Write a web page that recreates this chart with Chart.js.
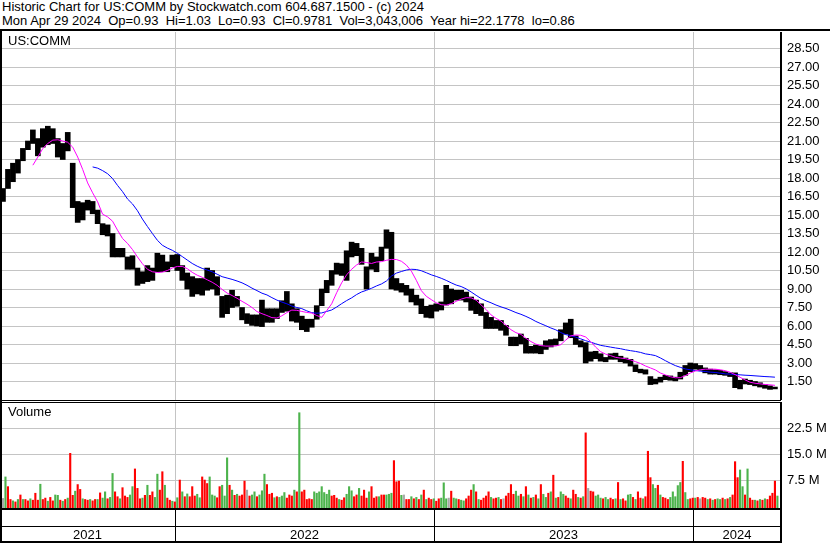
<!DOCTYPE html>
<html>
<head>
<meta charset="utf-8">
<script src="https://cdn.jsdelivr.net/npm/chart.js@4.4.1/dist/chart.umd.min.js"></script>
<style>
  html, body { margin: 0; padding: 0; background: #fff; }
  body { width: 830px; height: 543px; position: relative; overflow: hidden;
         font-family: "Liberation Sans", Arial, sans-serif; font-size: 13px; color: #000; }
  .txt { position: absolute; white-space: pre; line-height: 14px; z-index: 2; }
  .rule { position: absolute; background: #000; z-index: 2; }
  .hline { position: absolute; background: #c4c4c4; height: 1px; z-index: 0; }
  canvas { position: absolute; left: 0; z-index: 1; background: transparent; }
</style>
</head>
<body>
<div class="txt" style="left:2px;top:0">Historic Chart for US:COMM by Stockwatch.com 604.687.1500 - (c) 2024</div>
<div class="txt" style="left:2px;top:14px">Mon Apr 29 2024  Op=0.93  Hi=1.03  Lo=0.93  Cl=0.9781  Vol=3,043,006  Year hi=22.1778  lo=0.86</div>

<canvas id="priceChart" width="830" height="368" style="top:32px"></canvas>
<canvas id="volChart" width="830" height="106" style="top:402px"></canvas>

<div class="txt" style="left:8px;top:34px">US:COMM</div>
<div class="txt" style="left:8px;top:405px">Volume</div>

<div id="frame"></div>

<script>
// weekly high / low, one entry per week from late Apr 2021 to Apr 2024
const highs = [
  17.15, 18.7, 19.2, 19.5, 20.4, 21.0, 21.9, 21.2, 22.0, 22.2,
  22.0, 21.2, 20.8, 21.7, 19.2, 16.1, 16.0, 16.2, 16.1, 15.4,
  14.3, 14.2, 13.5, 12.3, 12.3, 11.6, 11.7, 10.7, 10.4, 10.9,
  10.7, 11.9, 11.75, 11.2, 11.75, 11.8, 10.9, 10.3, 10.0, 9.85,
  9.85, 10.7, 10.5, 10.0, 8.4, 8.5, 8.9, 8.4, 7.5, 7.0,
  6.9, 6.9, 8.1, 7.4, 7.4, 7.4, 8.05, 8.8, 7.8, 7.4,
  6.8, 6.55, 6.55, 7.65, 9.0, 9.7, 10.5, 11.1, 11.05, 12.1,
  12.8, 12.7, 12.3, 10.8, 11.9, 11.6, 12.4, 13.8, 13.6, 9.85,
  9.45, 9.3, 9.0, 8.5, 8.2, 7.6, 7.7, 7.8, 7.95, 9.3,
  9.0, 8.9, 8.9, 8.75, 8.35, 8.1, 7.8, 7.1, 6.7, 6.45,
  6.45, 6.05, 5.1, 5.1, 5.35, 5.0, 4.35, 4.45, 4.4, 4.8,
  4.9, 4.95, 5.7, 6.25, 6.55, 5.2, 4.8, 4.65, 3.9, 3.95,
  3.75, 3.45, 3.75, 3.8, 3.55, 3.4, 3.3, 2.85, 2.5, 2.45,
  1.9, 1.7, 1.85, 2.0, 1.95, 1.85, 2.25, 2.8, 3.0, 2.95,
  2.8, 2.6, 2.5, 2.45, 2.4, 2.3, 2.2, 2.2, 1.6, 1.7,
  1.6, 1.5, 1.4, 1.25, 1.15, 1.05
];
const lows = [
  16.1, 17.15, 17.7, 18.4, 19.4, 20.3, 20.8, 19.8, 20.5, 20.7,
  20.8, 19.7, 19.5, 20.2, 15.6, 14.4, 14.6, 15.4, 15.1, 14.3,
  13.4, 13.3, 11.6, 11.6, 11.6, 10.6, 10.6, 9.3, 9.45, 9.6,
  9.7, 10.4, 10.4, 10.4, 10.8, 10.5, 9.7, 9.0, 8.4, 8.6,
  8.5, 8.9, 9.0, 8.5, 6.7, 7.0, 7.5, 7.6, 6.5, 6.2,
  6.05, 6.0, 5.95, 6.3, 6.3, 6.6, 7.1, 7.2, 6.4, 6.3,
  5.7, 5.55, 5.9, 6.55, 7.65, 8.7, 9.3, 10.2, 10.1, 9.7,
  11.6, 11.7, 11.0, 9.0, 10.6, 10.4, 11.3, 12.3, 9.0, 8.9,
  8.75, 8.5, 7.95, 7.7, 7.0, 6.7, 6.65, 7.2, 7.3, 7.7,
  7.8, 8.1, 8.1, 7.95, 7.27, 7.0, 6.85, 5.8, 5.8, 5.8,
  5.65, 5.25, 4.4, 4.4, 4.55, 3.8, 3.8, 3.8, 3.75, 4.1,
  4.3, 4.45, 4.8, 5.35, 5.05, 4.5, 4.3, 3.0, 3.15, 3.35,
  3.15, 3.1, 3.3, 3.3, 3.1, 3.0, 2.75, 2.3, 2.2, 2.1,
  1.25, 1.3, 1.45, 1.65, 1.6, 1.55, 1.7, 2.0, 2.3, 2.5,
  2.4, 2.2, 2.1, 2.1, 2.05, 2.0, 1.9, 1.0, 0.9, 1.3,
  1.25, 1.15, 1.05, 0.95, 0.86, 0.9
];
// short moving average (magenta)
const maShort = [
  null, null, null, null, null, null, 19.04, 19.7, 20.4, 20.8,
  21.07, 21.1, 21.0, 20.9, 20.5, 19.7, 18.7, 17.6, 16.8, 16.07,
  15.07, 14.85, 14.5, 13.77, 13.1, 12.7, 12.2, 11.6, 11.05, 10.6,
  10.4, 10.34, 10.37, 10.5, 10.7, 10.83, 10.83, 10.65, 10.35, 10.12,
  9.95, 9.75, 9.55, 9.3, 8.97, 8.67, 8.47, 8.25, 8.0, 7.77,
  7.5, 7.17, 7.0, 6.85, 6.68, 6.65, 6.83, 7.09, 7.29, 7.27,
  7.18, 7.1, 7.05, 6.85, 6.7, 7.25, 7.8, 8.7, 9.5, 10.15,
  10.6, 10.95, 11.19, 11.15, 11.07, 11.19, 11.22, 11.33, 11.4, 11.39,
  11.25, 10.94, 10.45, 9.7, 8.87, 8.41, 8.14, 7.88, 7.73, 7.69,
  7.81, 8.0, 8.18, 8.3, 8.28, 8.1, 7.71, 7.34, 6.9, 6.62,
  6.4, 6.06, 5.7, 5.46, 5.32, 5.0, 4.74, 4.53, 4.41, 4.37,
  4.37, 4.38, 4.49, 4.86, 5.2, 5.27, 5.25, 5.11, 4.74, 4.29,
  3.92, 3.72, 3.6, 3.46, 3.4, 3.35, 3.25, 3.11, 2.96, 2.76,
  2.6, 2.44, 2.19, 2.03, 1.89, 1.8, 1.81, 1.97, 2.19, 2.35,
  2.45, 2.5, 2.5, 2.5, 2.45, 2.38, 2.25, 2.06, 1.84, 1.63,
  1.44, 1.36, 1.31, 1.26, 1.23, 1.19
];
// long moving average (blue)
const maLong = [
  null, null, null, null, null, null, null, null, null, null,
  null, null, null, null, null, null, null, null, 18.9, 18.8,
  18.6, 18.35, 17.96, 17.4, 16.9, 16.3, 15.9, 15.35, 14.67, 14.07,
  13.5, 12.95, 12.55, 12.32, 12.14, 11.9, 11.63, 11.35, 11.07, 10.85,
  10.67, 10.54, 10.4, 10.2, 10.0, 9.89, 9.78, 9.65, 9.5, 9.3,
  9.07, 8.87, 8.66, 8.52, 8.3, 8.1, 7.94, 7.8, 7.62, 7.5,
  7.41, 7.23, 7.08, 7.04, 7.06, 7.18, 7.3, 7.54, 7.81, 8.06,
  8.28, 8.55, 8.76, 8.9, 9.06, 9.25, 9.41, 9.65, 10.05, 10.29,
  10.42, 10.54, 10.6, 10.58, 10.48, 10.32, 10.15, 10.02, 9.87, 9.7,
  9.5, 9.32, 9.2, 9.01, 8.76, 8.49, 8.23, 8.04, 7.88, 7.7,
  7.55, 7.42, 7.26, 7.09, 6.95, 6.78, 6.59, 6.37, 6.19, 6.02,
  5.84, 5.69, 5.47, 5.3, 5.22, 5.1, 4.96, 4.81, 4.69, 4.56,
  4.43, 4.36, 4.29, 4.22, 4.16, 4.07, 4.0, 3.94, 3.86, 3.74,
  3.68, 3.6, 3.41, 3.19, 2.98, 2.79, 2.65, 2.52, 2.45, 2.39,
  2.34, 2.31, 2.26, 2.23, 2.18, 2.12, 2.1, 2.07, 2.04, 2.01,
  1.99, 1.96, 1.93, 1.9, 1.88, 1.85
];
// volume in millions, two samples per week
const volume = [
  2.3, 8.5, 5.7, 2.0, 1.6, 1.3, 2.0, 3.3, 2.0, 2.0,
  1.6, 2.2, 1.8, 3.8, 1.8, 6.4, 2.0, 2.4, 1.5, 2.6,
  1.6, 3.3, 3.2, 1.8, 1.5, 2.0, 2.4, 15.3, 3.2, 4.4,
  6.3, 4.9, 2.2, 2.0, 1.8, 2.0, 1.6, 2.0, 2.0, 3.9,
  2.4, 4.2, 2.2, 2.6, 9.5, 4.2, 2.8, 2.2, 5.4, 3.0,
  2.6, 3.3, 5.7, 10.8, 5.2, 2.2, 2.4, 3.2, 6.1, 3.2,
  4.2, 2.6, 9.3, 4.7, 10.0, 6.1, 2.4, 1.8, 1.5, 1.3,
  2.5, 7.6, 4.2, 2.8, 3.6, 2.8, 5.7, 3.0, 3.5, 2.5,
  8.5, 7.6, 6.6, 8.5, 3.3, 3.0, 2.5, 5.7, 6.1, 3.0,
  14.0, 6.1, 4.7, 3.2, 3.5, 3.0, 3.3, 7.3, 4.7, 3.0,
  3.3, 4.2, 2.8, 3.3, 4.5, 9.3, 6.3, 3.5, 3.8, 2.5,
  2.8, 2.6, 3.0, 4.0, 2.4, 3.3, 3.0, 4.7, 4.2, 27.0,
  4.2, 4.7, 2.0, 2.2, 2.0, 4.2, 3.8, 4.2, 5.7, 4.0,
  3.5, 4.7, 3.0, 3.2, 2.4, 2.0, 1.8, 2.5, 3.5, 5.7,
  4.5, 2.8, 3.3, 5.2, 3.0, 4.7, 2.4, 4.2, 5.7, 2.4,
  2.8, 2.8, 3.3, 3.3, 3.3, 3.5, 3.8, 13.2, 7.1, 7.3,
  3.2, 3.3, 2.0, 2.0, 2.8, 2.2, 2.6, 2.0, 3.3, 4.7,
  2.0, 2.4, 2.0, 2.2, 1.5, 2.2, 2.4, 6.8, 2.2, 2.4,
  4.4, 2.4, 2.2, 2.0, 1.8, 1.6, 2.2, 3.0, 4.7, 6.3,
  4.2, 2.0, 1.8, 2.4, 3.0, 4.2, 2.6, 2.2, 2.4, 2.6,
  2.0, 2.2, 3.0, 3.8, 6.3, 3.5, 4.4, 3.0, 3.5, 2.8,
  5.7, 3.3, 2.4, 2.6, 3.3, 2.2, 6.3, 3.5, 2.6, 3.8,
  4.2, 9.0, 2.4, 2.6, 4.2, 3.5, 3.0, 2.4, 2.2, 4.7,
  3.5, 2.6, 2.4, 2.8, 21.2, 5.2, 4.4, 4.2, 3.0, 3.3,
  2.4, 2.2, 2.6, 2.0, 2.4, 2.0, 2.2, 6.9, 2.0, 2.2,
  1.6, 3.3, 3.5, 2.6, 2.0, 4.2, 2.4, 2.2, 2.8, 15.9,
  8.3, 6.3, 5.2, 6.1, 3.3, 2.6, 2.4, 2.0, 2.6, 4.2,
  2.8, 6.0, 6.9, 13.0, 4.0, 2.0, 2.2, 2.4, 2.4, 2.6,
  2.2, 2.6, 2.4, 2.0, 2.2, 1.8, 2.0, 2.2, 2.0, 2.4,
  2.0, 2.2, 2.6, 3.3, 12.9, 8.3, 10.5, 5.7, 3.3, 10.8,
  2.4, 1.8, 1.8, 1.6, 2.0, 1.8, 2.2, 2.0, 3.0, 3.8,
  7.3, 3.0
];
// u = up day, d = down day, n = unchanged; one row per 10 volume samples
const volDir = [
  'nuddududud', 'duddduddud', 'duudududdu', 'ddudduddud', 'uuduuddudd',
  'duudddudud', 'duudduddud', 'udududdduu', 'ddduuudduu', 'udududddnd',
  'uuduuudddu', 'duuudddudu', 'ddddduuuuu', 'uudddudduu', 'uddudddudd',
  'dudduuuddd', 'unddududud', 'uddudduuun', 'duuduudddu', 'dudddduddu',
  'dndddduudu', 'dudududuud', 'ududuuddud', 'dududndduu', 'uduuddudud',
  'duududdudd', 'duududdduu', 'uuuduuddud', 'nddududuud', 'ududdduudu',
  'ddudududdd', 'du'
].join('');

const priceTicks = [1.5, 3, 4.5, 6, 7.5, 9, 10.5, 12, 13.5, 15, 16.5, 18, 19.5, 21, 22.5, 24, 25.5, 27, 28.5];
const volTicks = [7.5, 15, 22.5];
const yearStarts = [34.54, 86.6, 138.6];   // week index where each new year begins
const yearLabels = ['2021', '2022', '2023', '2024'];

const X_MIN = -0.6, X_MAX = 156.22;
const PRICE_MIN = 0, PRICE_MAX = 29.84;
const VOL_MIN = -0.55, VOL_MAX = 30.0;
const GRID = '#c4c4c4';
const UP = '#4cb34c', DOWN = '#ff0000', FLAT = '#a8a8a8';

// grid lines for the value ticks, painted behind everything already on the canvas
const gridBehind = {
  id: 'gridBehind',
  afterDraw: function (chart, args, opts) {
    const y = chart.scales.y, a = chart.chartArea, ctx = chart.ctx;
    ctx.save();
    ctx.globalCompositeOperation = 'destination-over';
    ctx.fillStyle = GRID;
    opts.values.forEach(function (v) {
      const py = Math.round(y.getPixelForValue(v) - 0.5);
      ctx.fillRect(a.left, py, a.right - a.left, 1);
    });
    ctx.restore();
  }
};

function timeAxis() {
  return {
    type: 'linear', min: X_MIN, max: X_MAX, offset: false,
    afterBuildTicks: function (s) { s.ticks = yearStarts.map(function (v) { return { value: v }; }); },
    afterFit: function (s) { s.height = 0; },
    ticks: { display: false },
    grid: { color: GRID, drawTicks: false, offset: false },
    border: { display: false }
  };
}

function valueAxis(min, max, tickValues, fmt) {
  return {
    type: 'linear', position: 'right', min: min, max: max,
    afterBuildTicks: function (s) { s.ticks = tickValues.map(function (v) { return { value: v }; }); },
    afterFit: function (s) { s.width = 49; s.paddingTop = 0; s.paddingBottom = 0; },
    ticks: {
      padding: 6, color: '#000',
      font: { family: '"Liberation Sans", Arial, sans-serif', size: 13 },
      callback: fmt
    },
    grid: { color: GRID, drawTicks: false },
    border: { display: true, color: '#000', width: 2 }
  };
}

function baseOptions(y, tickValues) {
  return {
    responsive: false, animation: false, devicePixelRatio: 1,
    layout: { padding: 0 },
    scales: { x: timeAxis(), y: y },
    plugins: {
      legend: { display: false }, tooltip: { enabled: false },
      gridBehind: { values: tickValues }
    }
  };
}

const priceChart = new Chart(document.getElementById('priceChart'), {
  type: 'bar',
  data: {
    datasets: [
      {
        type: 'line', order: 1,
        data: maShort.map(function (v, i) { return { x: i, y: v }; }),
        borderColor: '#ff00ff', borderWidth: 1, pointRadius: 0, tension: 0
      },
      {
        type: 'line', order: 1,
        data: maLong.map(function (v, i) { return { x: i, y: v }; }),
        borderColor: '#0000ff', borderWidth: 1, pointRadius: 0, tension: 0
      },
      {
        type: 'bar', order: 2,
        data: highs.map(function (h, i) { return { x: i, y: [lows[i], h] }; }),
        backgroundColor: '#000', barPercentage: 1, categoryPercentage: 1
      }
    ]
  },
  options: baseOptions(valueAxis(PRICE_MIN, PRICE_MAX, priceTicks, function (v) { return Number(v).toFixed(2); }), priceTicks),
  plugins: [gridBehind]
});

const volChart = new Chart(document.getElementById('volChart'), {
  type: 'bar',
  data: {
    datasets: [{
      data: volume.map(function (v, j) { return { x: j / 2, y: v }; }),
      base: VOL_MIN,
      backgroundColor: volume.map(function (v, j) {
        const d = volDir[j];
        return d === 'u' ? UP : d === 'd' ? DOWN : FLAT;
      }),
      barPercentage: 1, categoryPercentage: 0.85
    }]
  },
  options: baseOptions(valueAxis(VOL_MIN, VOL_MAX, volTicks, function (v) { return Number(v).toFixed(1) + ' M'; }), volTicks),
  plugins: [gridBehind]
});

// frame, horizontal grid underlay, year separators and year labels
(function () {
  const frame = document.getElementById('frame');
  function add(cls, l, t, w, h) {
    const d = document.createElement('div');
    d.className = cls;
    d.style.left = l + 'px';
    d.style.top = t + 'px';
    d.style.width = w + 'px';
    d.style.height = h + 'px';
    frame.appendChild(d);
    return d;
  }
  const xs = priceChart.scales.x;
  const right = Math.round(xs.right);
  // underlay copies of the grid, mapped with the same linear ranges as the value axes
  [[priceTicks, 32, 368, PRICE_MIN, PRICE_MAX], [volTicks, 402, 106, VOL_MIN, VOL_MAX]].forEach(function (p) {
    p[0].forEach(function (v) {
      const py = Math.round(p[2] * (p[4] - v) / (p[4] - p[3]) - 0.5);
      add('hline', 0, p[1] + py, right, 1);
    });
  });
  add('rule', 0, 29, 830, 2);          // top of price panel
  add('rule', 0, 29, 2, 514);          // left edge
  add('rule', 0, 400, right, 1);       // double rule between panels
  add('rule', 0, 402, right, 1);
  add('rule', 0, 508, right, 2);       // bottom of volume panel
  add('rule', 0, 526, right, 1);
  add('rule', 0, 541, right, 2);
  add('rule', right - 1, 508, 2, 35);  // right axis carried down
  const edges = [xs.left];
  yearStarts.forEach(function (v) {
    const px = Math.round(xs.getPixelForValue(v));
    edges.push(px);
    add('rule', px, 508, 1, 35);
  });
  edges.push(xs.right);
  yearLabels.forEach(function (lab, i) {
    const mid = (edges[i] + edges[i + 1]) / 2;
    const d = add('txt', mid - 40, 528, 80, 14);
    d.style.textAlign = 'center';
    d.textContent = lab;
  });
})();
</script>
</body>
</html>
